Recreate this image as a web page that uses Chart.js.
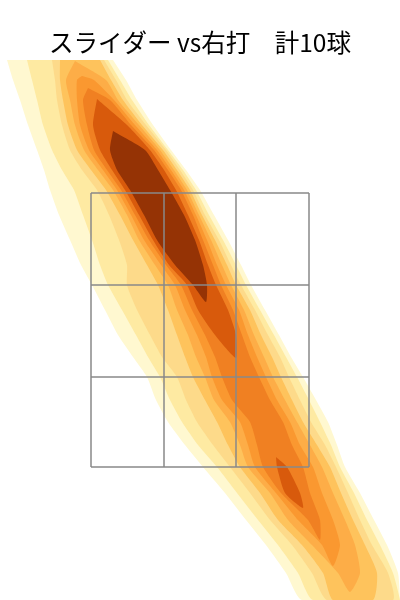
<!DOCTYPE html>
<html>
<head>
<meta charset="utf-8">
<script src="https://cdn.jsdelivr.net/npm/chart.js"></script>
<style>
  html, body { margin: 0; padding: 0; background: #fff; }
  #wrap { width: 400px; height: 600px; }
</style>
</head>
<body>
<div id="wrap"><canvas id="kdeChart" width="400" height="600"></canvas></div>
<script>
// 高さ(cm) ごとの等高線の左右の境界 (横位置 cm, 捕手から見て)
const rowY = [128, 124, 120, 115, 110, 106, 102, 97, 92, 87, 83, 78, 73, 68.6, 64.6, 60, 55.6, 51, 46.6, 41.4, 36, 31, 25.4, 20];

const band0L = [-38.6, -37.4, -36, -34.4, -32.6, -31.2, -30, -28.2, -26, -23.8, -21.6, -19, -16.4, -13.4, -10.6, -8.8, -6.4, -3, 0.6, 5, 9.2, 13.2, 17.2, 20.4];
const band0R = [-17.4, -14.8, -12.6, -9.4, -5.8, -2.8, 0, 2.8, 5.6, 8.2, 10.2, 13, 15.8, 18.2, 20.6, 23.2, 25.6, 27.4, 29, 32, 34.8, 37.4, 39.6, 40];

const band1L = [-34.6, -33.6, -32.6, -31.4, -29.6, -27.6, -25.2, -23.4, -21.6, -20, -18.4, -15.6, -12.8, -10.4, -8, -6, -3.6, -0.4, 3.4, 7.4, 11.6, 15.6, 19.6, 22.6];
const band1R = [-18.4, -16, -13.6, -10.2, -6.4, -3.4, -0.8, 1.8, 4.6, 7.2, 9.2, 12, 14.8, 17.2, 19.4, 21.8, 24, 26.2, 28, 30.8, 33.4, 36, 38.6, 40];

const band2L = [-29.6, -29, -28.6, -27.6, -26, -23.6, -20.6, -18.2, -16.2, -14.6, -14.6, -12.6, -10, -7.6, -4.6, -2.8, -0.6, 2.6, 6, 10, 14, 18.4, 22.4, 25.4];
const band2R = [-19.2, -16.8, -14.6, -10.8, -6.8, -4, -1.4, 1, 3.8, 6.2, 8.2, 11, 13.6, 16, 17.8, 20, 22.2, 25, 27.2, 29.6, 32, 34.4, 37.6, 38.6];

const band3L = [-28, -28, -27.4, -26.4, -24.6, -21.8, -18.8, -16, -13.4, -10.6, -8.4, -6.4, -4.6, -3, -1.4, 1, 3.4, 5.6, 8, 12, 15.6, 20.4, 24.6, 26.6];
const band3R = [-20, -17.8, -15.4, -11.6, -7.4, -4.6, -2, 0.4, 3, 5.4, 7.2, 10, 12.2, 14.4, 16.2, 18.4, 20.6, 23.4, 26, 28.2, 30.6, 33, 35.4, 34.6];

const band4L = [null, -26.8, -26, -25, -23.2, -20.4, -17.4, -14.6, -12.2, -9, -6.4, -4.6, -2.4, -0.8, 1, 2.8, 6, 8, 9.6, 14, 17.6, 22.4, 27.6, null];
const band4R = [null, -18.8, -16.4, -12.2, -8, -5.2, -2.6, -0.2, 2.2, 4.4, 6.2, 8.8, 10.8, 12.8, 14.6, 17, 19.4, 22, 24.4, 26.6, 29, 31, 32, null];

const band5L = [null, -24.6, -24.6, -24, -22.2, -19.4, -16.6, -13.8, -11.2, -7.8, -5, -3, -0.6, 1.2, 2.4, 4.4, 8, 9.6, 11, 15.2, 19.6, 24.4, null, null];
const band5R = [null, -21.2, -17.2, -13, -8.6, -5.8, -3.2, -0.8, 1.4, 3.4, 5.2, 7.8, 9.6, 11.4, 13.2, 15.4, 18, 20, 22.6, 24.4, 26.6, 28, null, null];

const band6L = [null, null, -23.4, -22.6, -21.2, -18.6, -15.8, -13, -10.2, -6.8, -3.8, -1.6, 1, 3, 4.4, 6.4, 10, 11.4, 12.6, 16.2, 21.6, null, null, null];
const band6R = [null, null, -18, -13.8, -9.2, -6.4, -3.8, -1.4, 0.6, 2.6, 4.2, 6.6, 8.4, 10, 11.8, 14, 16.6, 18.4, 20.6, 22, 24, null, null, null];

const band7L = [null, null, null, -21.4, -20, -17.6, -15, -12.2, -9.4, -6.2, -2.6, -0.4, 3, null, null, null, null, null, 15.4, 17, null, null, null, null];
const band7R = [null, null, null, -14.6, -10, -7.2, -4.8, -2.4, -0.2, 1.6, 3.2, 5.6, 7.2, null, null, null, null, null, 17.4, 20, null, null, null, null];

const band8L = [null, null, null, null, -18, -16.6, -14, -11.2, -8.6, -5, -1.4, null, null, null, null, null, null, null, null, null, null, null, null, null];
const band8R = [null, null, null, null, -11, -8.4, -6, -3.2, -1, 0.6, 1.4, null, null, null, null, null, null, null, null, null, null, null, null, null];

// 閉じた等高線の上端・下端 [横, 高さ]
const peakTop = [[], [], [], [], [[-25, 127.8]], [[-23.6, 124.8]], [[-22.4, 122.4]], [[-20.6, 120.2], [15.2, 48.6]], [[-17.4, 113.8]]];
const peakBottom = [[], [], [], [], [[30, 21.6]], [[26.6, 26.8]], [[24, 32]], [[7.2, 68.4], [20.6, 38.4]], [[1.2, 79.6]]];

const bandColors = ['#fff8d0', '#feeaa2', '#fdda8a', '#fec35c', '#fdad47', '#fa9830', '#f08022', '#d85a0c', '#953305'];

// ストライクゾーン (3x3)
const zoneX = [-21.8, -7.2, 7.2, 21.8];
const zoneY = [46.6, 64.6, 83, 101.4];

const titleText = 'スライダー vs右打　計10球';

const bandsL = [band0L, band1L, band2L, band3L, band4L, band5L, band6L, band7L, band8L];
const bandsR = [band0R, band1R, band2R, band3R, band4R, band5R, band6R, band7R, band8R];

// null で区切られた連続部分ごとに添字をまとめる
function runsOf(arr) {
    const out = [];
    let cur = null;
    arr.forEach((v, i) => {
        if (v === null) { cur = null; return; }
        if (!cur) { cur = []; out.push(cur); }
        cur.push(i);
    });
    return out;
}

const datasets = [];
bandsL.forEach((L, k) => {
    const R = bandsR[k];
    runsOf(L).forEach((idx, r) => {
        const top = peakTop[k][r];
        const bot = peakBottom[k][r];
        const pts = [];
        if (top) pts.push({ x: top[0], y: top[1] });
        idx.forEach(i => pts.push({ x: L[i], y: rowY[i] }));
        if (bot) pts.push({ x: bot[0], y: bot[1] });
        idx.slice().reverse().forEach(i => pts.push({ x: R[i], y: rowY[i] }));
        if (top) pts.push({ x: top[0], y: top[1] });
        datasets.push({
            data: pts,
            backgroundColor: bandColors[k],
            borderColor: 'rgba(0,0,0,0)',
            borderWidth: 0,
            pointRadius: 0,
            fill: 'shape',
            tension: 0.2,
            order: 20 - k
        });
    });
});

// ゾーンの枠線
const gridPts = [];
zoneX.forEach(x => {
    gridPts.push({ x: x, y: zoneY[0] }, { x: x, y: zoneY[zoneY.length - 1] }, { x: x, y: null });
});
zoneY.forEach(y => {
    gridPts.push({ x: zoneX[0], y: y }, { x: zoneX[zoneX.length - 1], y: y }, { x: zoneX[0], y: null });
});
datasets.push({
    data: gridPts,
    borderColor: '#898989',
    borderWidth: 1.5,
    pointRadius: 0,
    fill: false,
    tension: 0,
    spanGaps: false,
    order: 0
});

new Chart(document.getElementById('kdeChart'), {
    type: 'line',
    data: { datasets: datasets },
    options: {
        responsive: false,
        animation: false,
        events: [],
        layout: { padding: 0 },
        plugins: {
            legend: { display: false },
            tooltip: { enabled: false },
            title: {
                display: true,
                text: titleText,
                color: '#000',
                font: { family: "'Noto Sans CJK JP', sans-serif", size: 24.5, weight: 'normal' },
                padding: { top: 28, bottom: 2.6 }
            }
        },
        scales: {
            x: { type: 'linear', min: -40, max: 40, display: false },
            y: { type: 'linear', min: 20, max: 128, display: false }
        }
    }
});
</script>
</body>
</html>
